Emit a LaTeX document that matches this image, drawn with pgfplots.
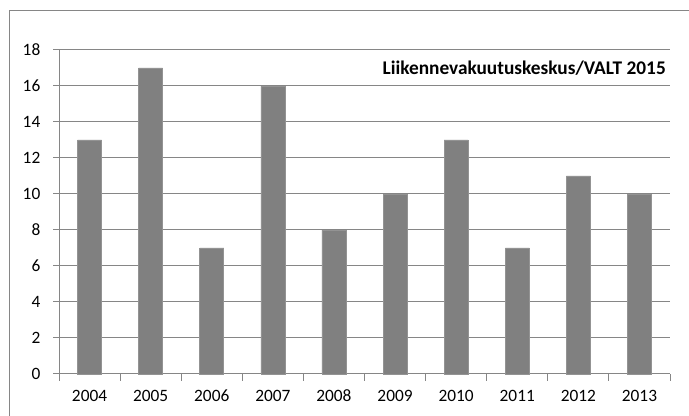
\documentclass[border=0pt]{standalone}
\usepackage{pgfplots}
\pgfplotsset{compat=1.18}
\usepackage{fontspec}
\setmainfont{Carlito}
\definecolor{barcol}{RGB}{128,128,128}
\definecolor{gridcol}{RGB}{134,134,134}
\begin{document}
\begin{tikzpicture}[x=1pt,y=1pt]
\useasboundingbox (0,0) rectangle (516.75,312);
\draw[gridcol, line width=0.75pt] (6.75,0) -- (6.75,303.75) -- (516.75,303.75);
\begin{axis}[
  at={(44.25pt,31.5pt)}, anchor=south west,
  scale only axis, width=458.25pt, height=243pt,
  xmin=-0.5, xmax=9.5, ymin=0, ymax=18,
  ytick={0,2,...,18},
  xtick={0,...,9},
  xticklabels={2004,2005,2006,2007,2008,2009,2010,2011,2012,2013},
  minor xtick={-0.5,0.5,...,9.5},
  major x tick style={draw=none},
  minor x tick style={gridcol, line width=0.75pt},
  minor tick length=5pt,
  major tick length=4.5pt,
  tick align=outside,
  axis x line*=bottom, axis y line*=left,
  axis line style={gridcol, line width=0.75pt, -},
  ytick style={gridcol, line width=0.75pt},
  ymajorgrids, grid style={gridcol, line width=0.75pt},
  /pgf/number format/assume math mode=true,
  tick label style={font=\fontsize{13}{15}\selectfont, text=black},
  xticklabel style={yshift=-4pt},
  yticklabel style={xshift=-6pt},
  ybar, bar width=18pt,
  clip=false,
]
\addplot[fill=barcol, draw=barcol!85!white, line width=0.5pt] coordinates {
(0,13) (1,17) (2,7) (3,16) (4,8) (5,10) (6,13) (7,7) (8,11) (9,10)};
\node[anchor=east, font=\bfseries\fontsize{14.5}{17}\selectfont, inner sep=0pt] at (rel axis cs:0.9935,0.944) {Liikennevakuutuskeskus/VALT 2015};
\end{axis}
\end{tikzpicture}
\end{document}
